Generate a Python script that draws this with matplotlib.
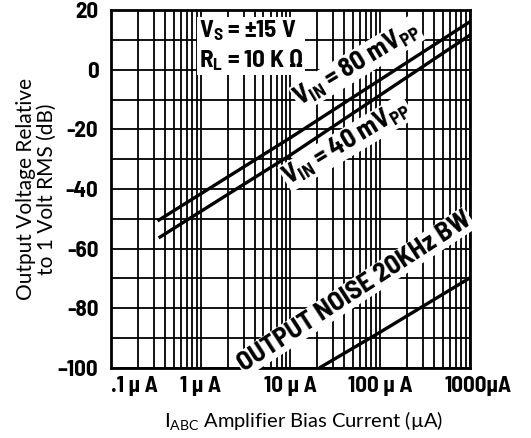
#!/usr/bin/env python3
"""Output voltage vs amplifier bias current (OTA datasheet style)."""

import matplotlib
matplotlib.use("Agg")
import matplotlib.pyplot as plt
import matplotlib.transforms as mtrans
import numpy as np

plt.rcParams["mathtext.default"] = "regular"

COND = ["Barlow Semi Condensed", "DejaVu Sans"]
PLAIN = ["Lato", "DejaVu Sans"]

# data (bias current in uA, output in dB)
i_80mv = [0.33, 10, 1000]
db_80mv = [-50.7, -22.8, 16.1]
i_40mv = [0.34, 10, 1000]
db_40mv = [-56.4, -28.6, 11.6]
i_noise = [21, 100, 1000]
db_noise = [-100, -88.0, -69.8]

x_ticks = [0.1, 1, 10, 100, 1000]
x_labels = [".1 \u00b5 A", "1 \u00b5 A", "10 \u00b5 A", "100 \u00b5 A", "1000\u00b5A"]
y_ticks = [-100, -80, -60, -40, -20, 0, 20]
y_labels = ["\u2013100", "-80", "-60", "-40", "-20", "0", "20"]

fig = plt.figure(figsize=(5.31, 4.38), dpi=100)
ax = fig.add_axes([0.209, 0.160, 0.676, 0.817])

ax.set_xscale("log")
ax.set_xlim(0.1, 1000)
ax.set_ylim(-100, 20)

# dense black datasheet grid
minor_x = [k * 10.0 ** n for n in range(-1, 3) for k in range(2, 10)]
ax.set_xticks(minor_x, minor=True)
ax.set_yticks(np.arange(-100, 21, 10), minor=True)
ax.grid(which="both", color="black", lw=1.3)
ax.set_axisbelow(True)

for xs, ys in [(i_80mv, db_80mv), (i_40mv, db_40mv), (i_noise, db_noise)]:
    ax.plot(xs, ys, color="black", lw=2.4, solid_capstyle="butt", zorder=5)

ax.set_xticks(x_ticks)
ax.set_xticklabels(x_labels, family=COND, fontweight="bold", fontsize=16.5)
ax.set_yticks(y_ticks)
ax.set_yticklabels(y_labels, family=COND, fontweight="bold", fontsize=16.5)
ax.tick_params(which="both", length=0)
ax.tick_params(axis="x", pad=6)
ax.tick_params(axis="y", pad=9)
labels = ax.get_xticklabels()
labels[0].set_horizontalalignment("left")
labels[-1].set_transform(labels[-1].get_transform()
                         + mtrans.ScaledTranslation(0.08, 0, fig.dpi_scale_trans))

for s in ax.spines.values():
    s.set_linewidth(2)

ax.set_xlabel("I$_{ABC}$ Amplifier Bias Current (\u00b5A)", family=PLAIN,
              fontsize=14.5)
ax.xaxis.set_label_coords(0.538, -0.115)
ax.set_ylabel("Output Voltage Relative\nto 1 Volt RMS (dB)", family=PLAIN,
              fontsize=15, linespacing=1.1)
ax.yaxis.set_label_coords(-0.15, 0.5)

# condition box
ax.text(0.95, 8, "V$_S$ = \u00b115 V\nR$_L$ = 10 K \u03a9", family=COND,
        fontweight="bold", fontsize=18, va="center", ha="left", zorder=4,
        linespacing=1.2,
        bbox=dict(facecolor="white", edgecolor="none", pad=1))

# curve labels
ax.text(55, 2, "V$_{IN}$ = 80 mV$_{PP}$", family=COND, fontweight="bold",
        fontsize=19, rotation=31, ha="center", va="center", zorder=4,
        bbox=dict(facecolor="white", edgecolor="none", pad=0.5))
ax.text(42, -24.5, "V$_{IN}$ = 40 mV$_{PP}$", family=COND, fontweight="bold",
        fontsize=19, rotation=31, ha="center", va="center", zorder=4,
        bbox=dict(facecolor="white", edgecolor="none", pad=0.5))
ax.text(52, -74.5, "OUTPUT NOISE 20KHz BW", family=COND, fontweight="bold",
        fontsize=19.5, rotation=33, ha="center", va="center", zorder=4,
        bbox=dict(facecolor="white", edgecolor="none", pad=0.5))

plt.savefig("out.png", dpi=100)
